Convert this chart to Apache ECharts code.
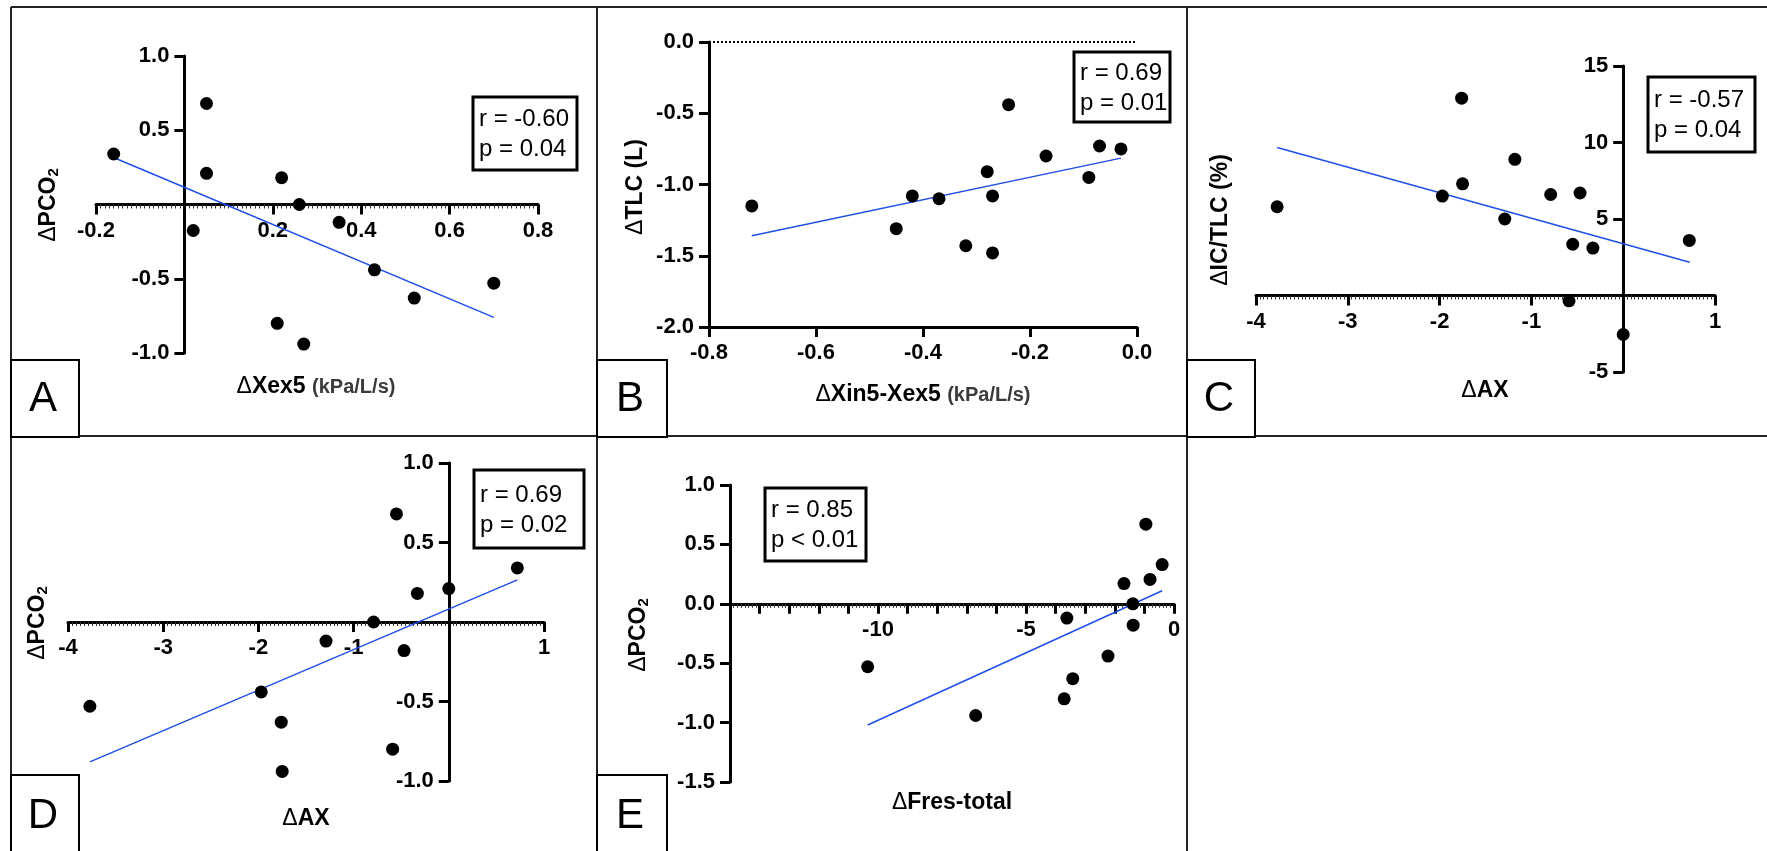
<!DOCTYPE html>
<html>
<head>
<meta charset="utf-8">
<script src="https://cdn.jsdelivr.net/npm/echarts@6/dist/echarts.min.js"></script>
<style>
html,body{margin:0;padding:0;background:#fff;}
#chart{width:1767px;height:851px;}
</style>
</head>
<body>
<div id="chart"></div>
<script>
// ---------- DATA ----------
// Panel A: ΔXex5 vs ΔPCO2
const aX = [-0.16, 0.05, 0.05, 0.02, 0.22, 0.26, 0.35, 0.43, 0.52, 0.70, 0.21, 0.27];
const aY = [0.34, 0.68, 0.21, -0.175, 0.18, 0.00, -0.12, -0.44, -0.63, -0.53, -0.80, -0.94];
const aFitX = [-0.155, 0.70];
const aFitY = [0.31, -0.76];
const aXTicks = [-0.2, 0, 0.2, 0.4, 0.6, 0.8];
const aYTicks = [-1.0, -0.5, 0, 0.5, 1.0];
const aStats = ['r = -0.60', 'p = 0.04'];

// Panel B: ΔXin5-Xex5 vs ΔTLC
const bX = [-0.72, -0.45, -0.42, -0.37, -0.32, -0.28, -0.27, -0.27, -0.24, -0.17, -0.09, -0.07, -0.03];
const bY = [-1.15, -1.31, -1.08, -1.10, -1.43, -0.91, -1.08, -1.48, -0.44, -0.80, -0.95, -0.73, -0.75];
const bFitX = [-0.72, -0.03];
const bFitY = [-1.36, -0.815];
const bXTicks = [-0.8, -0.6, -0.4, -0.2, 0.0];
const bYTicks = [-2.0, -1.5, -1.0, -0.5, 0.0];
const bStats = ['r = 0.69', 'p = 0.01'];

// Panel C: ΔAX vs ΔIC/TLC (%)
const cX = [-3.77, -1.76, -1.75, -1.97, -1.29, -1.18, -0.79, -0.47, -0.55, -0.33, -0.59, 0.0, 0.72];
const cY = [5.8, 12.9, 7.3, 6.5, 5.0, 8.9, 6.6, 6.7, 3.35, 3.1, -0.35, -2.55, 3.6];
const cFitX = [-3.77, 0.725];
const cFitY = [9.67, 2.17];
const cXTicks = [-4, -3, -2, -1, 0, 1];
const cYTicks = [-5, 0, 5, 10, 15];
const cStats = ['r = -0.57', 'p = 0.04'];

// Panel D: ΔAX vs ΔPCO2
const dX = [-3.77, -1.97, -1.76, -1.75, -1.29, -0.79, -0.55, -0.47, -0.59, -0.33, 0.0, 0.72];
const dY = [-0.53, -0.44, -0.63, -0.94, -0.12, 0.0, 0.68, -0.18, -0.80, 0.18, 0.21, 0.34];
const dFitX = [-3.77, 0.72];
const dFitY = [-0.88, 0.265];
const dXTicks = [-4, -3, -2, -1, 0, 1];
const dYTicks = [-1.0, -0.5, 0, 0.5, 1.0];
const dStats = ['r = 0.69', 'p = 0.02'];

// Panel E: ΔFres-total vs ΔPCO2
const eX = [-10.35, -6.70, -3.62, -3.71, -3.42, -2.23, -1.69, -1.39, -1.38, -0.95, -0.81, -0.40];
const eY = [-0.53, -0.94, -0.12, -0.80, -0.63, -0.44, 0.17, 0.0, -0.18, 0.67, 0.205, 0.33];
const eFitX = [-10.35, -0.40];
const eFitY = [-1.02, 0.11];
const eXTicks = [-15, -14, -13, -12, -11, -10, -9, -8, -7, -6, -5, -4, -3, -2, -1, 0];
const eXLabels = [-10, -5, 0];
const eYTicks = [-1.5, -1.0, -0.5, 0.0, 0.5, 1.0];
const eStats = ['r = 0.85', 'p < 0.01'];

const panelLetters = ['A', 'B', 'C', 'D', 'E'];

// ---------- HELPERS ----------
const FONT = "'Liberation Sans', Arial, Helvetica, sans-serif";
const zip = (xs, ys) => xs.map((x, i) => [x, ys[i]]);

function valueAxis(gridIndex, ticks, opt) {
  const interval = Math.round((ticks[1] - ticks[0]) * 1e6) / 1e6;
  const show = opt.labels || ticks.filter(v => !(opt.hide || []).includes(v));
  const dec = opt.dec || 0;
  return {
    type: 'value',
    gridIndex,
    min: ticks[0],
    max: ticks[ticks.length - 1],
    interval,
    position: opt.position,
    offset: 0,
    splitLine: { show: false },
    axisLine: { show: true, onZero: false, lineStyle: { color: '#000', width: 3 } },
    axisTick: { show: true, length: 10, lineStyle: { color: '#000', width: 3 } },
    minorTick: opt.minor ? { show: true, splitNumber: opt.minor, length: 4, lineStyle: { color: '#333', width: 1 } } : { show: false },
    minorSplitLine: { show: false },
    axisLabel: {
      color: '#000', fontWeight: 'bold', fontSize: 22, fontFamily: FONT, margin: 15,
      formatter: v => show.some(s => Math.abs(s - v) < 1e-6) ? Number(v).toFixed(dec) : ''
    }
  };
}

function scatterSeries(i, xs, ys, extra) {
  return Object.assign({
    type: 'scatter', xAxisIndex: i, yAxisIndex: i,
    data: zip(xs, ys), symbolSize: 13, z: 3,
    itemStyle: { color: '#000', opacity: 1 }, silent: true
  }, extra || {});
}
function fitSeries(i, xs, ys) {
  return {
    type: 'line', xAxisIndex: i, yAxisIndex: i,
    data: zip(xs, ys), showSymbol: false, symbol: 'none', z: 2,
    lineStyle: { color: '#1f4fe8', width: 1.5 }, silent: true
  };
}

const titleRich = {
  d: { fontSize: 23, fontFamily: FONT, fill: '#000' },
  b: { fontSize: 23, fontFamily: FONT, fontWeight: 'bold', fill: '#000' },
  s: { fontSize: 15, fontFamily: FONT, fontWeight: 'bold', fill: '#000', padding: [10, 0, 0, 0] },
  u: { fontSize: 20, fontFamily: FONT, fontWeight: 'bold', fill: '#3a3a3a' }
};
function titleText(text, x, y, rotated) {
  return {
    type: 'text', x, y, rotation: rotated ? Math.PI / 2 : 0, z: 50,
    style: { text, rich: titleRich, align: 'center', verticalAlign: 'middle',
             textAlign: 'center', textVerticalAlign: 'middle' }
  };
}
function statBox(lines, x, y, w, h) {
  return [
    { type: 'rect', shape: { x, y, width: w, height: h }, z: 40,
      style: { fill: '#fff', stroke: '#000', lineWidth: 3 } },
    { type: 'text', x: x + 6, y: y + h / 2 + 1, z: 41,
      style: { text: lines.join('\n'), fontSize: 24, fontFamily: FONT, fill: '#000', lineHeight: 30,
               align: 'left', verticalAlign: 'middle', textAlign: 'left', textVerticalAlign: 'middle' } }
  ];
}
function letterBox(letter, x, y, w, h) {
  return [
    { type: 'rect', shape: { x, y, width: w, height: h }, z: 40,
      style: { fill: '#fff', stroke: '#000', lineWidth: 2 } },
    { type: 'text', x: x + w / 2 - 2, y: y + h / 2 + 1, z: 41,
      style: { text: letter, fontSize: 42, fontFamily: FONT, fill: '#000',
               align: 'center', verticalAlign: 'middle', textAlign: 'center', textVerticalAlign: 'middle' } }
  ];
}
function hline(x1, y1, x2, y2) {
  return { type: 'line', shape: { x1, y1, x2, y2 }, z: 30, style: { stroke: '#222', lineWidth: 2 } };
}

// ---------- OPTION ----------
const grids = [
  { left: 96, top: 56, width: 442, height: 297 },
  { left: 709, top: 42, width: 428, height: 285 },
  { left: 1256, top: 66, width: 459, height: 306 },
  { left: 68, top: 463, width: 476, height: 318 },
  { left: 730, top: 485, width: 444, height: 297 }
];
// which axes cross at the other axis's zero: [xAtZeroY, yAtZeroX]
const crossAtZero = [[true, true], [false, false], [true, true], [true, true], [true, false]];

const option = {
  animation: false,
  backgroundColor: '#fff',
  grid: grids.map(g => Object.assign({ containLabel: false, outerBoundsMode: 'none' }, g)),
  xAxis: [
    valueAxis(0, aXTicks, { hide: [0], dec: 1, minor: 20, position: 'bottom' }),
    valueAxis(1, bXTicks, { dec: 1, position: 'bottom' }),
    valueAxis(2, cXTicks, { hide: [0], dec: 0, minor: 24, position: 'bottom' }),
    valueAxis(3, dXTicks, { hide: [0], dec: 0, minor: 24, position: 'bottom' }),
    valueAxis(4, eXTicks, { labels: eXLabels, dec: 0, minor: 8, position: 'bottom' })
  ],
  yAxis: [
    valueAxis(0, aYTicks, { hide: [0], dec: 1, position: 'left' }),
    valueAxis(1, bYTicks, { dec: 1, position: 'left' }),
    valueAxis(2, cYTicks, { hide: [0], dec: 0, position: 'left' }),
    valueAxis(3, dYTicks, { hide: [0], dec: 1, position: 'left' }),
    valueAxis(4, eYTicks, { dec: 1, position: 'left' })
  ],
  series: [
    fitSeries(0, aFitX, aFitY), scatterSeries(0, aX, aY),
    fitSeries(1, bFitX, bFitY),
    scatterSeries(1, bX, bY, {
      markLine: { silent: true, symbol: ['none', 'none'], label: { show: false },
                  lineStyle: { type: 'dotted', color: '#000', width: 2 },
                  data: [{ yAxis: 0 }] }
    }),
    fitSeries(2, cFitX, cFitY), scatterSeries(2, cX, cY),
    fitSeries(3, dFitX, dFitY), scatterSeries(3, dX, dY),
    fitSeries(4, eFitX, eFitY), scatterSeries(4, eX, eY)
  ],
  graphic: [
    hline(11, 7, 1767, 7),
    hline(11, 7, 11, 851),
    hline(597, 7, 597, 851),
    hline(1187, 7, 1187, 851),
    hline(11, 436, 1767, 436),
    ...letterBox(panelLetters[0], 11, 360, 68, 77),
    ...letterBox(panelLetters[1], 597, 360, 70, 77),
    ...letterBox(panelLetters[2], 1187, 360, 68, 77),
    ...letterBox(panelLetters[3], 11, 775, 68, 80),
    ...letterBox(panelLetters[4], 597, 775, 70, 80),
    ...statBox(aStats, 473, 97, 104, 73),
    ...statBox(bStats, 1074, 52, 96, 70),
    ...statBox(cStats, 1648, 77, 107, 75),
    ...statBox(dStats, 474, 470, 110, 78),
    ...statBox(eStats, 765, 488, 101, 73),
    titleText('{d|Δ}{b|PCO}{s|2}', 49, 205, true),
    titleText('{d|Δ}{b|Xex5 }{u|(kPa/L/s)}', 316, 387, false),
    titleText('{d|Δ}{b|TLC (L)}', 636, 187, true),
    titleText('{d|Δ}{b|Xin5-Xex5 }{u|(kPa/L/s)}', 923, 395, false),
    titleText('{d|Δ}{b|IC/TLC (%)}', 1221, 220, true),
    titleText('{d|Δ}{b|AX}', 1485, 391, false),
    titleText('{d|Δ}{b|PCO}{s|2}', 38, 623, true),
    titleText('{d|Δ}{b|AX}', 306, 819, false),
    titleText('{d|Δ}{b|PCO}{s|2}', 639, 635, true),
    titleText('{d|Δ}{b|Fres-total}', 952, 803, false)
  ]
};

const chart = echarts.init(document.getElementById('chart'), null, { renderer: 'canvas' });
chart.setOption(option);

// Move crossing axes (line, ticks and labels together) to the other axis's zero,
// using the library's own scale to find where zero falls.
const xOff = [], yOff = [];
grids.forEach((g, i) => {
  const p0 = chart.convertToPixel({ gridIndex: i }, [0, 0]);
  xOff.push({ offset: crossAtZero[i][0] ? p0[1] - (g.top + g.height) : 0 });
  yOff.push({ offset: crossAtZero[i][1] ? g.left - p0[0] : 0 });
});
chart.setOption({ xAxis: xOff, yAxis: yOff });
</script>
</body>
</html>
